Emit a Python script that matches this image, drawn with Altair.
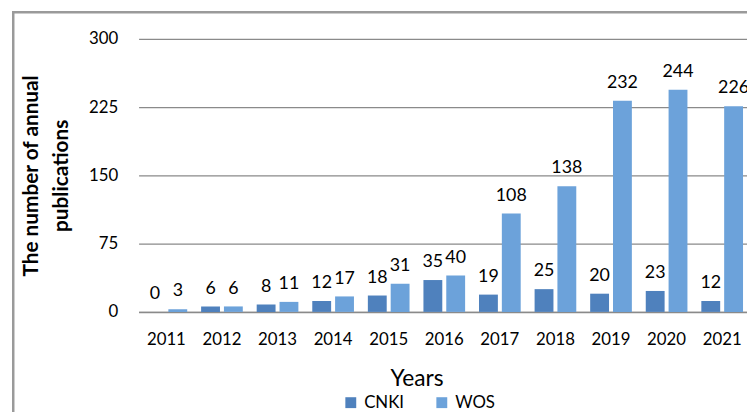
import altair as alt
import pandas as pd

years = ["2011", "2012", "2013", "2014", "2015", "2016", "2017", "2018", "2019", "2020", "2021"]
cnki = [0, 6, 8, 12, 18, 35, 19, 25, 20, 23, 12]
wos = [3, 6, 11, 17, 31, 40, 108, 138, 232, 244, 226]
series = ["CNKI", "WOS"]
colors = ["#4F81BD", "#6CA2DA"]
y_ticks = [0, 75, 150, 225, 300]

rows = []
for i, yr in enumerate(years):
    rows.append({"year": yr, "source": "CNKI", "count": cnki[i]})
    rows.append({"year": yr, "source": "WOS", "count": wos[i]})
df = pd.DataFrame(rows)

FONT = "Lato"
GRID = "#8A8A8A"

x_enc = alt.X(
    "year:N",
    sort=years,
    scale=alt.Scale(paddingInner=0.25, paddingOuter=0.125),
    axis=alt.Axis(
        title="Years",
        labelAngle=0,
        ticks=False,
        tickSize=0,
        grid=False,
        domainColor=GRID,
        domainWidth=1.5,
        labelPadding=20,
        labelFont=FONT,
        labelFontSize=17,
        labelColor="#000000",
        titleFont=FONT,
        titleFontSize=23,
        titleFontWeight="normal",
        titleColor="#000000",
        titleX=281,
        titleY=74,
        titleBaseline="alphabetic",
        titleAlign="center",
    ),
)
xoff_enc = alt.XOffset("source:N", sort=series, scale=alt.Scale(paddingInner=0.174, paddingOuter=0))
y_enc = alt.Y(
    "count:Q",
    scale=alt.Scale(domain=[0, 300], nice=False),
    axis=alt.Axis(
        values=y_ticks,
        title=["The number of annual", "publications"],
        grid=True,
        gridColor=GRID,
        gridWidth=1.3,
        domain=False,
        ticks=False,
        tickSize=0,
        labelPadding=21,
        labelFont=FONT,
        labelFontSize=17,
        labelColor="#000000",
        titleFont=FONT,
        titleFontSize=21,
        titleFontWeight="bold",
        titleColor="#000000",
        titleAngle=270,
        titleBaseline="top",
        titleAlign="center",
        titleX=-119,
        titleLineHeight=30,
    ),
)
color_enc = alt.Color(
    "source:N",
    sort=series,
    scale=alt.Scale(domain=series, range=colors),
    legend=alt.Legend(
        title=None,
        orient="none",
        legendX=206,
        legendY=359,
        direction="horizontal",
        symbolType="square",
        symbolSize=121,
        symbolStrokeWidth=0,
        labelFont=FONT,
        labelFontSize=17,
        labelColor="#000000",
        labelOffset=5,
        columnPadding=29,
        padding=0,
    ),
)

bars = alt.Chart(df).mark_bar().encode(x=x_enc, xOffset=xoff_enc, y=y_enc, color=color_enc)

labels = alt.Chart(df).mark_text(
    dy=-13, baseline="alphabetic", font=FONT, fontSize=18, color="#000000"
).encode(x=x_enc, xOffset=xoff_enc, y=y_enc, text="count:Q")

frame = alt.Chart(alt.Data(values=[{"k": 1}])).mark_rect(
    fill="transparent", stroke="#9A9A9A", strokeWidth=2.5
).encode(
    x=alt.value(-126.7), x2=alt.value(700), y=alt.value(-27), y2=alt.value(450)
)

chart = alt.layer(frame, bars, labels).properties(
    width=618,
    height=276,
    autosize=alt.AutoSizeParams(type="none"),
    padding={"left": 132, "top": 29, "right": -3, "bottom": 99},
    background="#FFFFFF",
).configure_view(strokeWidth=0)

chart.save("out.html", embed_options={"renderer": "svg", "actions": False})
